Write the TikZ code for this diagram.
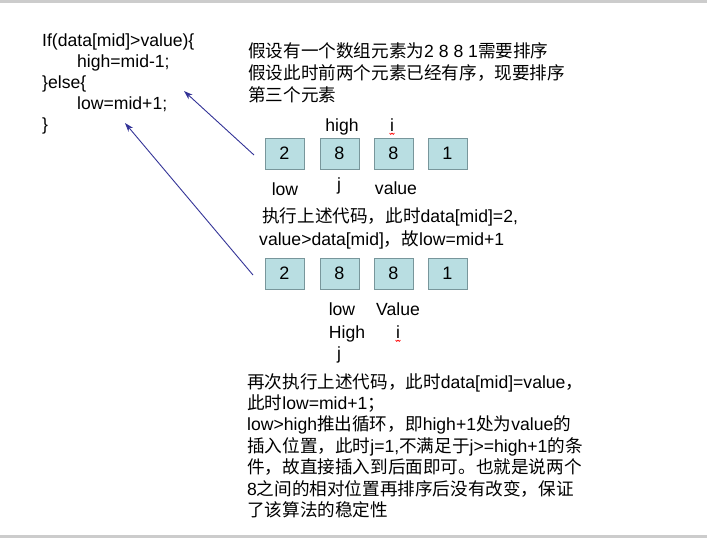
\documentclass[tikz,border=0pt]{standalone}
\usepackage{fontspec}
\setmainfont{Liberation Sans}
\newfontfamily\cjk{Noto Sans CJK SC}
\usetikzlibrary{arrows.meta,positioning}
\newcommand{\zh}[1]{{\cjk #1}}
\definecolor{cellfill}{RGB}{185,222,226}
\definecolor{celledge}{RGB}{120,150,155}
\definecolor{arrowblue}{RGB}{50,50,150}
\tikzset{
  txt/.style={anchor=base west, inner sep=0pt, font=\fontsize{17.6}{21}\selectfont},
  lbl/.style={anchor=base, inner sep=0pt, font=\fontsize{17.6}{21}\selectfont},
  cell/.style={draw=celledge, fill=cellfill, line width=0.8pt, minimum width=39pt, minimum height=31pt, inner sep=0pt, font=\fontsize{18}{21}\selectfont},
  ptr/.style={arrowblue, line width=0.9pt, -{Stealth[length=9pt,width=6pt]}},
  squig/.style={red, line width=0.6pt}
}
\begin{document}
\begin{tikzpicture}[x=1pt,y=-1pt]
\useasboundingbox (0,0) rectangle (707,538);
\fill[black!20] (0,0) rectangle (707,3);
\fill[black!20] (0,535) rectangle (707,538);
% code
\node[txt] (c1) at (42,46) {If(data[mid]>value)\{};
\node[txt] (c2) at (77,67) {high=mid-1;};
\node[txt] (c3) at (42,88) {\}else\{};
\node[txt] (c4) at (77,109) {low=mid+1;};
\node[txt] (c5) at (42,130) {\}};
% intro
\node[txt] (t1) at (248,57) {\zh{假设有一个数组元素为}2 8 8 1\zh{需要排序}};
\node[txt] (t2) at (248,79) {\zh{假设此时前两个元素已经有序，现要排序}};
\node[txt] (t3) at (248,101) {\zh{第三个元素}};
% first row
\foreach \v/\x [count=\k] in {2/284.5,8/339.5,8/393.5,1/447.5}
  \node[cell] (a\k) at (\x,153.5) {\v};
\node[lbl] (hi1) at (342,131) {high};
\node[lbl] (i1) at (392,131) {i};
\draw[squig] ([xshift=-2.5pt,yshift=-2pt]i1.base) -- ++(1.25,1.5) -- ++(1.25,-1.5) -- ++(1.25,1.5) -- ++(1.25,-1.5);
\node[lbl] (lo1) at (285,195) {low};
\node[lbl] (j1) at (339,190) {j};
\node[lbl] (va1) at (396,194) {value};
% step text
\node[txt] (s1) at (262,222) {\zh{执行上述代码，此时}data[mid]=2,};
\node[txt] (s2) at (259,245) {value>data[mid]\zh{，故}low=mid+1};
% second row
\foreach \v/\x [count=\k] in {2/284.5,8/339.5,8/393.5,1/447.5}
  \node[cell] (b\k) at (\x,273.5) {\v};
\node[lbl] (lo2) at (342,315) {low};
\node[lbl] (va2) at (398,315) {Value};
\node[lbl] (hi2) at (347,338) {High};
\node[lbl] (i2) at (398,338) {i};
\draw[squig] ([xshift=-2.5pt,yshift=-2pt]i2.base) -- ++(1.25,1.5) -- ++(1.25,-1.5) -- ++(1.25,1.5) -- ++(1.25,-1.5);
\node[lbl] (j2) at (339,359) {j};
% conclusion
\foreach \t [count=\k] in {
  {\zh{再次执行上述代码，此时}data[mid]=value\zh{，}},
  {\zh{此时}low=mid+1\zh{；}},
  {low>high\zh{推出循环，即}high+1\zh{处为}value\zh{的}},
  {\zh{插入位置，此时}j=1,\zh{不满足于}j>=high+1\zh{的条}},
  {\zh{件，故直接插入到后面即可。也就是说两个}},
  {8\zh{之间的相对位置再排序后没有改变，保证}},
  {\zh{了该算法的稳定性}}}
  \node[txt] (r\k) at (247,{388+21.4*(\k-1)}) {\t};
% pointers
\coordinate (p1) at (254,155);
\coordinate (q1) at (184,91);
\coordinate (p2) at (253,275);
\coordinate (q2) at (125,123);
\draw[ptr] (p1) -- (q1);
\draw[ptr] (p2) -- (q2);
\end{tikzpicture}
\end{document}
